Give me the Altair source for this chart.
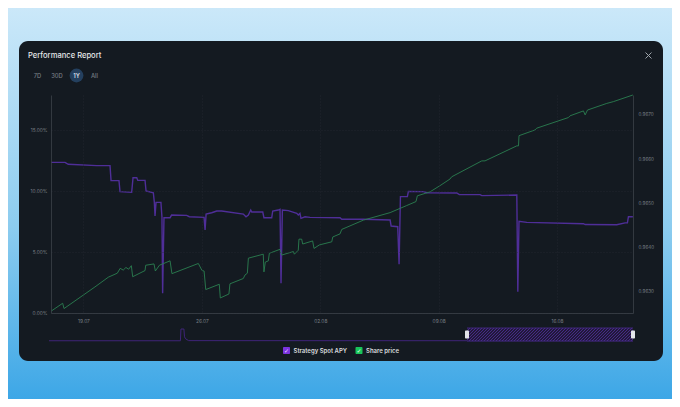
import altair as alt
import numpy as np
import pandas as pd

# day offsets are counted from 19.07 00:00
apy_days = [-1.92, -1.09, -0.90, 0.78, 1.57, 1.63, 2.10, 2.16, 2.85, 2.93, 3.15, 3.21, 3.64, 3.70, 4.13, 4.19, 4.23,
            4.29, 4.58, 4.64, 4.68, 4.76, 5.12, 5.21, 6.10, 6.26, 7.13, 7.19, 7.25, 7.58, 7.88, 8.17, 9.45, 9.61,
            9.75, 9.89, 9.95, 10.60, 10.67, 11.13, 11.19, 11.52, 11.62, 11.68, 11.76, 12.11, 12.61, 12.70, 12.80,
            12.86, 13.10, 13.39, 15.17, 15.27, 16.55, 18.13, 18.19, 18.58, 18.66, 18.74, 19.15, 19.21, 20.10, 20.30,
            22.07, 22.22, 23.45, 23.55, 25.62, 25.68, 25.75, 26.21, 29.56, 29.66, 31.53, 32.02, 32.16, 32.22, 32.48]
apy_vals = [12.35, 12.35, 12.19, 12.08, 12.08, 10.85, 10.85, 9.95, 9.89, 11.09, 11.09, 10.87, 10.87, 10.0, 9.86, 9.07,
            7.95, 9.07, 9.07, 7.84, 1.61, 7.81, 7.81, 8.03, 8.0, 7.89, 7.84, 6.8, 8.11, 8.22, 8.36, 8.36, 8.11, 7.89,
            8.03, 8.44, 8.28, 8.28, 7.81, 7.81, 8.36, 8.44, 8.50, 2.43, 8.44, 8.39, 8.17, 8.03, 8.17,
            7.76, 7.89, 7.84, 7.81, 7.68, 7.68, 7.62, 7.13, 7.07, 3.99, 9.54, 9.54, 9.97, 9.95, 9.86,
            9.84, 9.70, 9.70, 9.62, 9.67, 1.75, 7.51, 7.43, 7.32, 7.25, 7.23, 7.39, 7.39, 7.89, 7.89]

price_days = [-1.92, -1.23, -1.15, 0.68, 1.47, 2.0, 2.17, 2.35, 2.51, 2.67, 2.83, 2.91, 3.64, 3.68, 4.17, 4.25, 4.49,
              5.12, 5.23, 6.79, 7.01, 7.13, 7.23, 8.03, 8.09, 8.60, 8.66, 9.45, 9.55, 9.69, 9.75, 10.63, 10.67, 10.75,
              10.93, 10.99, 11.62, 11.72, 12.41, 12.47, 12.70, 12.74, 12.90, 12.96, 13.55, 13.63, 13.95, 14.68, 14.74,
              15.17, 15.27, 16.55, 18.13, 19.11, 19.66, 19.74, 20.49, 21.08, 21.67, 21.77, 23.55, 23.74, 25.62, 25.72,
              25.75, 26.70, 26.80, 28.67, 28.77, 29.56, 29.66, 29.80, 30.94, 31.33, 32.48]
price_vals = [0.96256, 0.96274, 0.96262, 0.96311, 0.96333, 0.96342, 0.96353, 0.96349, 0.96355, 0.96351, 0.96359,
              0.96334, 0.96348, 0.96360, 0.96363, 0.96347, 0.96360, 0.96370, 0.96341, 0.96364, 0.96348, 0.96347,
              0.96305, 0.96317, 0.96286, 0.96295, 0.96318, 0.96330, 0.96338, 0.96342, 0.96376, 0.96385, 0.96345,
              0.96367, 0.96370, 0.96387, 0.96396, 0.96383, 0.96391, 0.96385, 0.96394, 0.96419, 0.96419, 0.96408,
              0.96415, 0.96398, 0.96406, 0.96413, 0.96424, 0.96431, 0.96441, 0.96462, 0.96479, 0.96495, 0.96504,
              0.96517, 0.96526, 0.96540, 0.96555, 0.96560, 0.96596, 0.96596, 0.96630, 0.96630, 0.96653, 0.96666,
              0.96670, 0.96694, 0.96698, 0.96709, 0.96700, 0.96711, 0.96726, 0.96730, 0.96745]

# navigator strip under the chart, in percent of the full range
nav_pos = [0, 22.5, 22.6, 23.1, 23.2, 23.4, 23.9, 100]
nav_vals = [2, 2, 100, 100, 35, 18, 3, 2]

left_ticks = [0, 5, 10, 15]
right_ticks = [0.963, 0.964, 0.965, 0.966, 0.967]
date_ticks = [alt.DateTime(year=2023, month=7, date=19), alt.DateTime(year=2023, month=7, date=26),
              alt.DateTime(year=2023, month=8, date=2), alt.DateTime(year=2023, month=8, date=9),
              alt.DateTime(year=2023, month=8, date=16)]

PURPLE = "#4f2e98"
GREEN = "#2a7f50"
PANEL = "#141a21"
GRID = "#252b33"
AXIS = "#3b4149"
LABEL = "#7a8087"
FONT = "Inter"

# the plot area sits at 51,95 on the page, 582x218
LEFT, TOP = 51, 95
W, H = 582, 218
one = pd.DataFrame({"a": [0]})


def px(v):
    return v - LEFT


def py(v):
    return v - TOP


def to_time(days):
    return [(pd.Timestamp("2023-07-19") + pd.Timedelta(days=d)).strftime("%Y-%m-%dT%H:%M:%S") for d in days]


def box(x0, x1, y0, y1, fill, radius=0, **kw):
    return alt.Chart(one).mark_rect(fill=fill, cornerRadius=radius, **kw).encode(
        x=alt.value(px(x0)), x2=alt.value(px(x1)), y=alt.value(py(y0)), y2=alt.value(py(y1)))


def label(s, x, y, size, color, align="left", weight=400, font=FONT):
    return alt.Chart(one).mark_text(text=s, fontSize=size, color=color, align=align, baseline="middle",
                                    fontWeight=weight, font=font).encode(x=alt.value(px(x)), y=alt.value(py(y)))


def seg(x0, y0, x1, y1, color, width=1.0):
    return alt.Chart(one).mark_rule(color=color, strokeWidth=width).encode(
        x=alt.value(px(x0)), x2=alt.value(px(x1)), y=alt.value(py(y0)), y2=alt.value(py(y1)))


# page and panel
page = alt.Chart(one).mark_rect(
    fill=alt.Gradient(gradient="linear", x1=0, y1=0, x2=0, y2=1,
                      stops=[alt.GradientStop(color="#cbe8f9", offset=0),
                             alt.GradientStop(color="#8cccef", offset=0.55),
                             alt.GradientStop(color="#39a5e6", offset=1)])
).encode(x=alt.value(px(8)), x2=alt.value(px(680)), y=alt.value(py(8)), y2=alt.value(py(407)))
panel = box(19, 663, 41, 361, PANEL, radius=9)

chrome = [
    label("Performance Report", 28, 55.5, 7.6, "#e6e8ea", weight=500),
    seg(645.5, 52.5, 651.5, 58.5, "#9fa5ab", 1.0),
    seg(645.5, 58.5, 651.5, 52.5, "#9fa5ab", 1.0),
    label("7D", 37.5, 75.5, 5.8, "#777d84", align="center", weight=500),
    label("30D", 57, 75.5, 5.8, "#777d84", align="center", weight=500),
    alt.Chart(one).mark_circle(size=190, color="#24405f", opacity=1).encode(x=alt.value(px(76.5)), y=alt.value(py(75.5))),
    label("1Y", 76.5, 75.5, 5.8, "#d5dde6", align="center", weight=600),
    label("All", 94.5, 75.5, 5.8, "#777d84", align="center", weight=500),
]

# main series
apy_df = pd.DataFrame({"t": to_time(apy_days), "v": apy_vals})
price_df = pd.DataFrame({"t": to_time(price_days), "v": price_vals})
x_domain = to_time([-1.92, 32.49])
x_scale = alt.Scale(domain=x_domain)

apy = alt.Chart(apy_df).mark_line(color=PURPLE, strokeWidth=1.4, clip=False).encode(
    x=alt.X("t:T", scale=x_scale, title=None,
            axis=alt.Axis(values=date_ticks, format="%d.%m", labelColor=LABEL, labelFontSize=4.8, labelFont=FONT,
                          domainColor=AXIS, domainWidth=0.8, ticks=False, labelPadding=5, grid=True,
                          gridColor=GRID, gridDash=[1, 2], gridWidth=0.7, zindex=1)),
    y=alt.Y("v:Q", scale=alt.Scale(domain=[0, H / 12.2]), title=None,
            axis=alt.Axis(values=left_ticks, labelExpr="format(datum.value, '.2f') + '%'", labelColor=LABEL,
                          labelFontSize=4.8, labelFont=FONT, domainColor=AXIS, domainWidth=0.8, ticks=False,
                          labelPadding=4, grid=True, gridColor=GRID, gridDash=[1, 2], gridWidth=0.7, zindex=1)),
)
price = alt.Chart(price_df).mark_line(color=GREEN, strokeWidth=0.9).encode(
    x=alt.X("t:T", scale=x_scale, axis=None),
    y=alt.Y("v:Q", scale=alt.Scale(domain=[0.96252, 0.96745]), title=None,
            axis=alt.Axis(orient="right", values=right_ticks, format=".4f", labelColor=LABEL, labelFontSize=4.6,
                          labelFont=FONT, domainColor=AXIS, domainWidth=0.8, ticks=False, labelPadding=5,
                          grid=False, zindex=1)),
)

# navigator
nav_df = pd.DataFrame({"p": nav_pos, "v": nav_vals})
nav = alt.Chart(nav_df).mark_line(color="#3f2479", strokeWidth=1).encode(
    x=alt.X("p:Q", scale=alt.Scale(domain=[0, 100], range=[px(49), px(633)]), axis=None),
    y=alt.Y("v:Q", scale=alt.Scale(domain=[0, 100], range=[py(341), py(329)]), axis=None),
)

sel_x0, sel_x1, sel_y0, sel_y1 = 467, 633, 328, 341
hatch_rows = []
for start in np.arange(sel_x0 - (sel_y1 - sel_y0), sel_x1, 3.0):
    a, b = start, start + (sel_y1 - sel_y0)
    ya, yb = sel_y1, sel_y0
    if a < sel_x0:
        ya -= sel_x0 - a
        a = sel_x0
    if b > sel_x1:
        yb += b - sel_x1
        b = sel_x1
    hatch_rows.append({"x": px(a), "x2": px(b), "y": py(ya), "y2": py(yb)})
hatch = alt.Chart(pd.DataFrame(hatch_rows)).mark_rule(color="#4a2c8e", strokeWidth=0.9).encode(
    x=alt.X("x:Q", scale=None), x2="x2:Q", y=alt.Y("y:Q", scale=None), y2="y2:Q")

selection = [
    box(sel_x0, sel_x1, sel_y0, sel_y1, "#21183a"),
    hatch,
    seg(sel_x0, sel_y0, sel_x1, sel_y0, "#4a2c8f", 0.8),
    seg(sel_x0, sel_y1, sel_x1, sel_y1, "#4a2c8f", 0.8),
    box(465, 469, 330.5, 338.5, "#e4e6ea", radius=1),
    box(631, 635, 330.5, 338.5, "#e4e6ea", radius=1),
]

# legend
legend = [
    box(283, 290, 347, 354, "#7a33e0", radius=1),
    label("\u2713", 286.5, 350.5, 6, "#e9ddff", align="center", font="DejaVu Sans"),
    label("Strategy Spot APY", 293.5, 350.7, 6, "#d9dbde", weight=600),
    box(355.5, 362.5, 347, 354, "#18c45a", radius=1),
    label("\u2713", 359, 350.5, 6, "#e4ffe9", align="center", font="DejaVu Sans"),
    label("Share price", 366, 350.7, 6, "#d9dbde", weight=600),
]

chart = alt.layer(page, panel, *chrome, apy, price, nav, *selection, *legend).resolve_scale(
    x="independent", y="independent"
).properties(
    width=W, height=H,
    padding={"left": LEFT - 8, "top": TOP - 8, "right": 680 - 8 - LEFT - W, "bottom": 407 - 8 - TOP - H},
    autosize=alt.AutoSizeParams(type="none"),
    background="transparent",
).configure_view(stroke=None)

chart.save("out.html", embed_options={"renderer": "svg", "actions": False})
